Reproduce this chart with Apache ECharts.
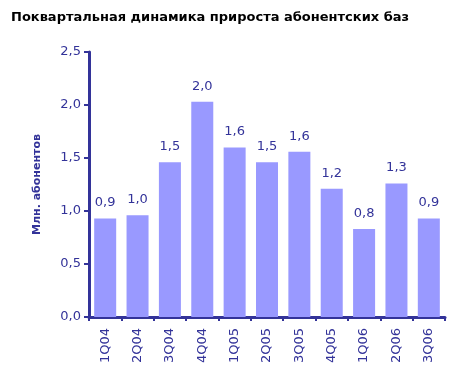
<!DOCTYPE html>
<html><head><meta charset="utf-8">
<script src="https://cdn.jsdelivr.net/npm/echarts@6/dist/echarts.min.js"></script>
<style>html,body{margin:0;padding:0;background:#fff}#c{width:456px;height:375px}</style>
</head><body><div id="c"></div>
<script>
const categories = ['1Q04','2Q04','3Q04','4Q04','1Q05','2Q05','3Q05','4Q05','1Q06','2Q06','3Q06'];
const values = [0.93, 0.96, 1.46, 2.03, 1.60, 1.46, 1.56, 1.21, 0.83, 1.26, 0.93];
const yTicks = [0, 0.5, 1.0, 1.5, 2.0, 2.5];
const title = 'Поквартальная динамика прироста абонентских баз';
const yName = 'Млн. абонентов';

const navy = '#333399';
const fmt = v => v.toFixed(1).replace('.', ',');
const chart = echarts.init(document.getElementById('c'));
chart.setOption({
  animation: false,
  title: { text: title, left: 6, top: 6, textStyle: { fontFamily: 'DejaVu Sans', fontWeight: 'bold', fontSize: 13, color: '#000' } },
  grid: { left: 89, right: 11, top: 52, bottom: 58 },
  xAxis: {
    type: 'category', data: categories,
    axisLine: { lineStyle: { color: navy, width: 3 } },
    axisTick: { show: true, length: 4, lineStyle: { color: navy, width: 2 } },
    axisLabel: { rotate: 90, color: navy, fontFamily: 'DejaVu Sans', fontSize: 13, margin: 11 }
  },
  yAxis: {
    type: 'value', min: yTicks[0], max: yTicks[yTicks.length-1], interval: 0.5,
    name: yName, nameLocation: 'middle', nameGap: 46, nameRotate: 90,
    nameTextStyle: { color: navy, fontFamily: 'DejaVu Sans', fontWeight: 'bold', fontSize: 11 },
    axisLine: { show: true, lineStyle: { color: navy, width: 3 } },
    axisTick: { show: true, length: 5, lineStyle: { color: navy, width: 2 } },
    splitLine: { show: false },
    axisLabel: { color: navy, fontFamily: 'DejaVu Sans', fontSize: 13, margin: 8, formatter: v => fmt(v) }
  },
  series: [{
    type: 'bar', data: values, barWidth: '68%',
    itemStyle: { color: '#9999FF' },
    label: { show: true, position: 'top', distance: 9, color: navy, fontFamily: 'DejaVu Sans', fontSize: 13, formatter: p => fmt(p.value) }
  }]
});
</script></body></html>
